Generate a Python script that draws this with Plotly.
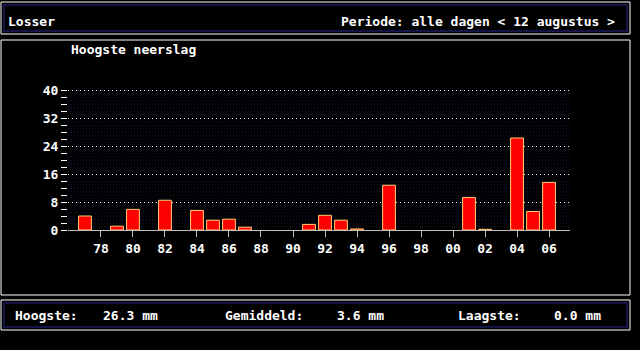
import plotly.graph_objects as go

# ---- data ----
years = list(range(1977, 2007))
rain = [4.0, 0, 1.1, 5.9, 0, 8.5, 0, 5.6, 2.8, 3.1,
        0.8, 0, 0, 0, 1.6, 4.2, 2.8, 0.3, 0, 12.8,
        0, 0, 0, 0, 9.3, 0.2, 0, 26.3, 5.3, 13.6]
tick_years = list(range(1978, 2007, 2))
tick_labels = [f"{y % 100:02d}" for y in tick_years]
y_major = list(range(0, 41, 8))
y_ticks = list(range(0, 41, 2))

station = "Losser"
period = "Periode: alle dagen < 12 augustus >"
title = "Hoogste neerslag"

W, H = 640, 350
L, R, T, B = 68, 70, 89, 120
PW, PH = W - L - R, H - T - B
YMAX = 40.3

def px(x):
    return (x - L) / PW

def py(y):
    return (H - B - y) / PH

FONT = "DejaVu Sans Mono"

fig = go.Figure()
fig.add_trace(go.Bar(
    x=years, y=[v if v > 0 else None for v in rain],
    marker=dict(color="#ff0000", line=dict(color="#ffd070", width=1)),
    width=0.8, hoverinfo="skip",
))
# invisible helper trace on overlay axis (for the major dotted grid)
fig.add_trace(go.Scatter(x=[years[0]], y=[0], yaxis="y2", mode="markers",
                         marker=dict(opacity=0), hoverinfo="skip", showlegend=False))

fig.update_layout(
    width=W, height=H,
    margin=dict(l=L, r=R, t=T, b=B),
    paper_bgcolor="#000000", plot_bgcolor="#000000",
    showlegend=False,
    font=dict(family=FONT, size=13, color="#ffffff"),
    xaxis=dict(
        range=[1975.94, 2007.31], tickvals=tick_years, ticktext=tick_labels,
        ticks="outside", ticklen=6, tickcolor="#c0c0c0", tickwidth=1,
        showline=True, linecolor="#c0c0c0", linewidth=1,
        showgrid=False, zeroline=False,
        tickfont=dict(family=FONT, size=13, color="#ffffff", weight="bold"),
    ),
    yaxis=dict(
        range=[0, YMAX], tickvals=y_ticks,
        ticktext=[str(v) if v % 8 == 0 else "" for v in y_ticks],
        ticks="outside", ticklen=6, tickcolor="#ffffff", tickwidth=1,
        showgrid=False, zeroline=False, showline=False,
        tickfont=dict(family=FONT, size=13, color="#ffffff", weight="bold"),
        minor=dict(dtick=1, showgrid=True, gridcolor="#101044", griddash="1px,2px",
                   gridwidth=1, ticks=""),
    ),
    yaxis2=dict(
        range=[0, YMAX], overlaying="y", tickvals=y_major, showticklabels=False,
        showgrid=True, gridcolor="#e8e8e8", griddash="1px,3px", gridwidth=1,
        zeroline=False, ticks="",
    ),
)

shapes = []
# panels
for (x0, y0, x1, y1, inner) in [(1, 2, 630, 34, True), (1, 40, 630, 295, False), (1, 300, 630, 330, True)]:
    shapes.append(dict(type="rect", xref="paper", yref="paper", layer="below",
                       x0=px(x0), x1=px(x1), y0=py(y0), y1=py(y1),
                       line=dict(color="#ffffff", width=1), fillcolor="#000000"))
    if inner:
        shapes.append(dict(type="rect", xref="paper", yref="paper", layer="below",
                           x0=px(x0 + 3), x1=px(x1 - 3), y0=py(y0 + 3), y1=py(y1 - 3),
                           line=dict(color="#141448", width=2)))
fig.update_layout(shapes=shapes)

def text(s, x, y, anchor="left"):
    fig.add_annotation(text=s, x=px(x), y=py(y), xref="paper", yref="paper",
                       xanchor=anchor, yanchor="middle", showarrow=False,
                       font=dict(family=FONT, size=13, color="#ffffff", weight="bold"))

text(station, 6, 21)
text(period, 617, 21, "right")
text(title, 69, 50)

mx = max(rain)
mean = sum(rain) / len(rain)
mn = min(rain)
text("Hoogste:", 13, 315)
text(f"{mx:.1f} mm", 101, 315)
text("Gemiddeld:", 223, 315)
text(f"{mean:.1f} mm", 335, 315)
text("Laagste:", 456, 315)
text(f"{mn:.1f} mm", 552, 315)

fig.write_html("out.html")
